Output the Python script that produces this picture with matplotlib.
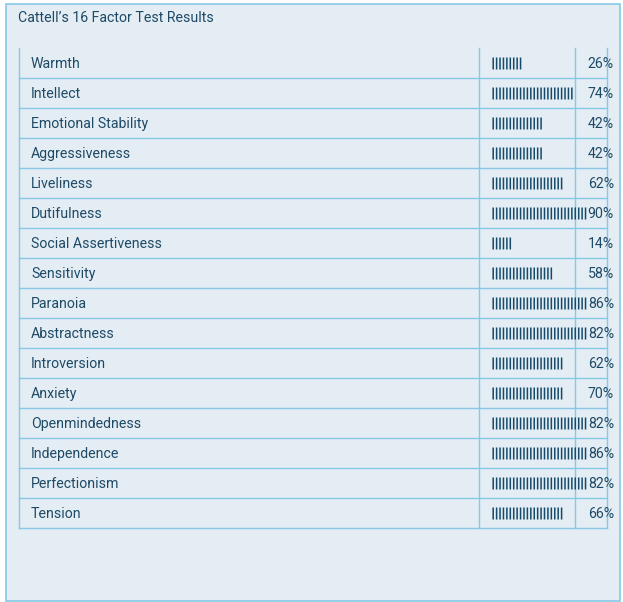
import matplotlib
matplotlib.use("Agg")
import matplotlib.pyplot as plt

title = "Cattell\u2019s 16 Factor Test Results"
factors = ["Warmth", "Intellect", "Emotional Stability", "Aggressiveness", "Liveliness",
           "Dutifulness", "Social Assertiveness", "Sensitivity", "Paranoia", "Abstractness",
           "Introversion", "Anxiety", "Openmindedness", "Independence", "Perfectionism", "Tension"]
percent = [26, 74, 42, 42, 62, 90, 14, 58, 86, 82, 62, 70, 82, 86, 82, 66]
pipes = [9, 24, 15, 15, 21, 28, 6, 18, 28, 28, 21, 21, 28, 28, 28, 21]

W, H = 623, 602
BG = "#e4edf4"
LINE = "#86c8e6"
TXT = "#1e4a66"
PIPE = "#154a6a"

fig = plt.figure(figsize=(W / 100, H / 100), dpi=100)
fig.patch.set_facecolor("white")
ax = fig.add_axes([0, 0, 1, 1])
ax.set_xlim(0, W)
ax.set_ylim(H, 0)
ax.axis("off")

# outer panel
ax.add_patch(plt.Rectangle((5.5, 3.5), 614.5, 597, facecolor=BG, edgecolor=LINE, lw=1.2))
ax.text(18, 21.5, title, fontsize=10.2, color=TXT, family="Roboto", va="baseline", ha="left")

top, rowh = 48, 30
left, c1, c2, right = 18.5, 479.0, 575.0, 606.5
n = len(factors)
bottom = top + n * rowh
for x in (left, c1, c2, right):
    ax.plot([x, x], [top, bottom], color=LINE, lw=1)
for i, (name, pct, k) in enumerate(zip(factors, percent, pipes)):
    y0 = top + i * rowh
    yc = y0 + rowh / 2 + 0.5
    base = y0 + 20
    yb = top + (i + 1) * rowh
    ax.plot([left, right], [yb, yb], color=LINE, lw=1)
    ax.text(31, base, name, fontsize=10.2, color=TXT, family="Roboto", va="baseline", ha="left")
    xs = [493.2 + j * 3.42 for j in range(k)]
    ax.vlines(xs, yc - 6, yc + 6, colors=PIPE, lw=1.1, snap=False, antialiased=True)
    ax.text(614, base, f"{pct}%", fontsize=10.2, color=TXT, family="Roboto", va="baseline", ha="right")

fig.savefig("out.png", dpi=100, facecolor=fig.get_facecolor())
